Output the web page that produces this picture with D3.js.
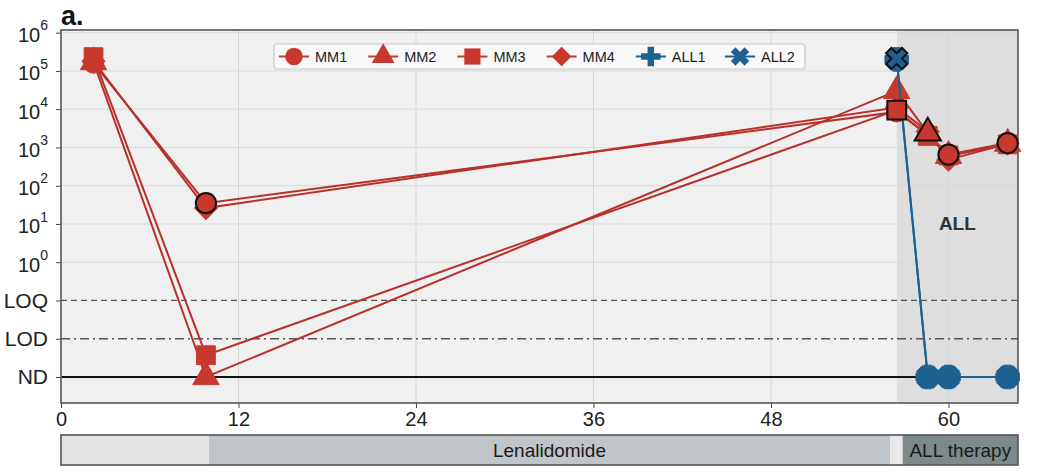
<!DOCTYPE html>
<html>
<head>
<meta charset="utf-8">
<script src="https://cdn.jsdelivr.net/npm/d3@7"></script>
<style>
    body { margin: 0; background: #ffffff; }
    svg { font-family: "Liberation Sans", Arial, sans-serif; }
</style>
</head>
<body>
<svg id="chart" width="1037" height="474"></svg>
<script>
//----------------------------------------------------------------
// Données : suivi MRD (mois depuis le diagnostic)
//----------------------------------------------------------------

// mois des prélèvements
const moisMM = [2.2, 9.8, 56.5, 58.6, 60.0, 64.0];
const moisALL = [56.5, 58.6, 60.0, 64.0];

// valeurs par clone ("ND" = non détecté, "<LOD" = sous la limite de détection)
const mm1 = [1.6e5, 35, 8.5e3, 2.2e3, 650, 1300];
const mm2 = [1.7e5, "ND", 3.0e4, 2.4e3, 600, 1250];
const mm3 = [2.3e5, "<LOD", 9.5e3, 2.0e3, 620, 1200];
const mm4 = [1.8e5, 26, 1.1e4, 2.6e3, 480, 1250];
const all1 = [2.0e5, "ND", "ND", "ND"];
const all2 = [2.1e5, "ND", "ND", "ND"];

const seriesNames = ["MM1", "MM2", "MM3", "MM4", "ALL1", "ALL2"];

// points entourés de noir
const pointsEntoures = [["MM1", 9.8], ["MM3", 56.5], ["MM2", 58.6], ["MM1", 60.0], ["MM1", 64.0], ["ALL2", 56.5]];

// niveaux de l'axe y (du bas vers le haut)
const yNiveaux = ["ND", "LOD", "LOQ", "0", "1", "2", "3", "4", "5", "6"];

// traitements (barre du bas)
const traitDebut = [0, 10.0, 56.05, 56.9];
const traitFin = [10.0, 56.05, 56.9, 64.7];
const traitNoms = ["", "Lenalidomide", "", "ALL therapy"];

const debutALL = 56.5;
const xTicks = [0, 12, 24, 36, 48, 60];

//----------------------------------------------------------------

const svg = d3.select("#chart");
const marge = {gauche: 61, droite: 1018, haut: 30, bas: 403};

const x = d3.scaleLinear().domain([0, 64.7]).range([marge.gauche, marge.droite]);
const y = d3.scaleLinear().domain([-0.68, 9.07]).range([marge.bas, marge.haut]);

/**
 * position d'une valeur sur l'axe y
 */
function niveau(v) {
    if (v === "ND") return 0;
    if (v === "LOD") return 1;
    if (v === "<LOD") return 0.57;
    if (v === "LOQ") return 2;
    return 3 + Math.log10(v);
}

const rouge = "#c9382d", rougeTrait = "#b8302a", bleu = "#1d6191";

const series = [
    {nom: "MM1", mois: moisMM, vals: mm1, forme: "circle", couleur: rouge},
    {nom: "MM2", mois: moisMM, vals: mm2, forme: "triangle", couleur: rouge},
    {nom: "MM3", mois: moisMM, vals: mm3, forme: "square", couleur: rouge},
    {nom: "MM4", mois: moisMM, vals: mm4, forme: "diamond", couleur: rouge},
    {nom: "ALL1", mois: moisALL, vals: all1, forme: "plus", couleur: bleu},
    {nom: "ALL2", mois: moisALL, vals: all2, forme: "cross", couleur: bleu}
];

function symbole(forme, k) {
    switch (forme) {
        case "circle": return d3.symbol(d3.symbolCircle, 320 * k)();
        case "triangle": return d3.symbol(d3.symbolTriangle, 300 * k)();
        case "square": return d3.symbol(d3.symbolSquare, 350 * k)();
        case "diamond": return d3.symbol(d3.symbolSquare, 260 * k)();
        default: return d3.symbol(d3.symbolCross, 280 * k)();
    }
}
function rotation(forme) {
    return (forme === "diamond" || forme === "cross") ? 45 : 0;
}

const L = marge.gauche, R = marge.droite, T = marge.haut, B = marge.bas;

// fond du graphique
svg.append("rect")
    .attr("x", L).attr("y", T)
    .attr("width", x(debutALL) - L).attr("height", B - T)
    .attr("fill", "#f0f0f0");
svg.append("rect")
    .attr("x", x(debutALL)).attr("y", T)
    .attr("width", R - x(debutALL)).attr("height", B - T)
    .attr("fill", "#dedede");

// grille
svg.append("g").selectAll("line")
    .data(xTicks.slice(1))
    .join("line")
    .attr("x1", d => x(d)).attr("x2", d => x(d))
    .attr("y1", T).attr("y2", B)
    .attr("stroke", "#d6d6d6").attr("stroke-width", 1);
svg.append("g").selectAll("line")
    .data(d3.range(3, 10))
    .join("line")
    .attr("x1", L).attr("x2", R)
    .attr("y1", d => y(d)).attr("y2", d => y(d))
    .attr("stroke", "#d9d9d9").attr("stroke-width", 1);

// lignes LOQ / LOD / ND
svg.append("line")
    .attr("x1", L).attr("x2", R)
    .attr("y1", y(niveau("LOQ"))).attr("y2", y(niveau("LOQ")))
    .attr("stroke", "#555").attr("stroke-width", 1.3).attr("stroke-dasharray", "6,4");
svg.append("line")
    .attr("x1", L).attr("x2", R)
    .attr("y1", y(niveau("LOD"))).attr("y2", y(niveau("LOD")))
    .attr("stroke", "#555").attr("stroke-width", 1.3).attr("stroke-dasharray", "9,4,2,4");
svg.append("line")
    .attr("x1", L).attr("x2", R)
    .attr("y1", y(0)).attr("y2", y(0))
    .attr("stroke", "#111").attr("stroke-width", 1.8);

svg.append("text")
    .attr("x", x(60.6)).attr("y", y(4.0) + 6)
    .attr("text-anchor", "middle")
    .attr("font-size", 19).attr("font-weight", "bold").attr("fill", "#333")
    .text("ALL");

// axes
const xAxis = svg.append("g")
    .attr("transform", `translate(0,${B})`)
    .call(d3.axisBottom(x).tickValues(xTicks).tickSize(5).tickPadding(4));
xAxis.select(".domain").remove();
xAxis.selectAll("line").attr("stroke", "#444");
xAxis.selectAll("text").attr("font-size", 20).attr("fill", "#222");

const yAxis = svg.append("g")
    .attr("transform", `translate(${L},0)`)
    .call(d3.axisLeft(y).tickValues(d3.range(0, 10)).tickSize(5).tickPadding(8).tickFormat(""));
yAxis.select(".domain").remove();
yAxis.selectAll("line").attr("stroke", "#444");
yAxis.selectAll(".tick text").each(function (d) {
    const t = d3.select(this).attr("fill", "#222");
    const lab = yNiveaux[d];
    if (d < 3) {
        t.attr("font-size", 21).text(lab);
    } else {
        t.attr("font-size", 20).attr("dy", "0.45em");
        t.append("tspan").text("10");
        t.append("tspan").attr("font-size", 14).attr("dy", "-0.85em").text(lab);
    }
});

// cadre
svg.append("rect")
    .attr("x", L).attr("y", T)
    .attr("width", R - L).attr("height", B - T)
    .attr("fill", "none").attr("stroke", "#555").attr("stroke-width", 1.6);

// traces des clones
const ligne = d3.line()
    .x(d => x(d[0]))
    .y(d => y(niveau(d[1])));

function points(s) {
    return s.mois.map((m, i) => [m, s.vals[i], s]);
}

function dessinerSerie(s) {
    svg.append("path")
        .datum(points(s))
        .attr("d", ligne)
        .attr("fill", "none")
        .attr("stroke", s.couleur === rouge ? rougeTrait : s.couleur)
        .attr("stroke-width", 2);
}

function dessinerMarqueurs(s, k) {
    svg.append("g").selectAll("path")
        .data(points(s))
        .join("path")
        .attr("d", symbole(s.forme, k))
        .attr("transform", d => `translate(${x(d[0])},${y(niveau(d[1]))}) rotate(${rotation(s.forme)})`)
        .attr("fill", s.couleur)
        .attr("stroke", s.couleur)
        .attr("stroke-width", 1);
}

const rougeSeries = series.filter(s => s.couleur === rouge);
const bleuSeries = series.filter(s => s.couleur === bleu);

rougeSeries.slice().reverse().forEach(dessinerSerie);
[series[3], series[1], series[0], series[2]].forEach(s => dessinerMarqueurs(s, 1));
bleuSeries.forEach(dessinerSerie);
bleuSeries.forEach(s => dessinerMarqueurs(s, 1.1));

// points entourés
pointsEntoures.forEach(function (p) {
    const s = series.find(d => d.nom === p[0]);
    const i = s.mois.indexOf(p[1]);
    svg.append("path")
        .attr("d", symbole(s.forme, 1))
        .attr("transform", `translate(${x(p[1])},${y(niveau(s.vals[i]))}) rotate(${rotation(s.forme)})`)
        .attr("fill", s.couleur)
        .attr("stroke", "#111")
        .attr("stroke-width", 2);
});

// légende
const leg = svg.append("g");
leg.append("rect")
    .attr("x", 274).attr("y", 44).attr("width", 531).attr("height", 25)
    .attr("rx", 3)
    .attr("fill", "#f9f9f9").attr("stroke", "#c8c8c8").attr("stroke-width", 1.2);
const legX = d3.scalePoint().domain(seriesNames).range([294, 740]);
series.forEach(function (s) {
    const cx = legX(s.nom), cy = 56.5;
    leg.append("line")
        .attr("x1", cx - 15).attr("x2", cx + 15).attr("y1", cy).attr("y2", cy)
        .attr("stroke", s.couleur).attr("stroke-width", 2);
    leg.append("path")
        .attr("d", symbole(s.forme, 0.75))
        .attr("transform", `translate(${cx},${cy}) rotate(${rotation(s.forme)})`)
        .attr("fill", s.couleur);
    leg.append("text")
        .attr("x", cx + 21).attr("y", cy + 5)
        .attr("font-size", 14.5).attr("fill", "#222")
        .text(s.nom);
});

// barre des traitements
const couleursTrait = ["#e4e4e4", "#bfc5c9", "#e9e9e9", "#7d898b"];
const barre = svg.append("g");
barre.selectAll("rect")
    .data(traitDebut)
    .join("rect")
    .attr("x", (d, i) => x(d)).attr("y", 435)
    .attr("width", (d, i) => x(traitFin[i]) - x(d)).attr("height", 30)
    .attr("fill", (d, i) => couleursTrait[i]);
barre.append("rect")
    .attr("x", L).attr("y", 435).attr("width", R - L).attr("height", 30)
    .attr("fill", "none").attr("stroke", "#555").attr("stroke-width", 1.6);
barre.selectAll("text")
    .data(traitNoms)
    .join("text")
    .attr("x", (d, i) => (x(traitDebut[i]) + x(traitFin[i])) / 2)
    .attr("y", 457)
    .attr("text-anchor", "middle")
    .attr("font-size", 19).attr("fill", "#1a1a1a")
    .text(d => d);

// titre
svg.append("text")
    .attr("x", 61).attr("y", 25)
    .attr("font-size", 27).attr("font-weight", "bold").attr("fill", "#111")
    .text("a.");
</script>
</body>
</html>
